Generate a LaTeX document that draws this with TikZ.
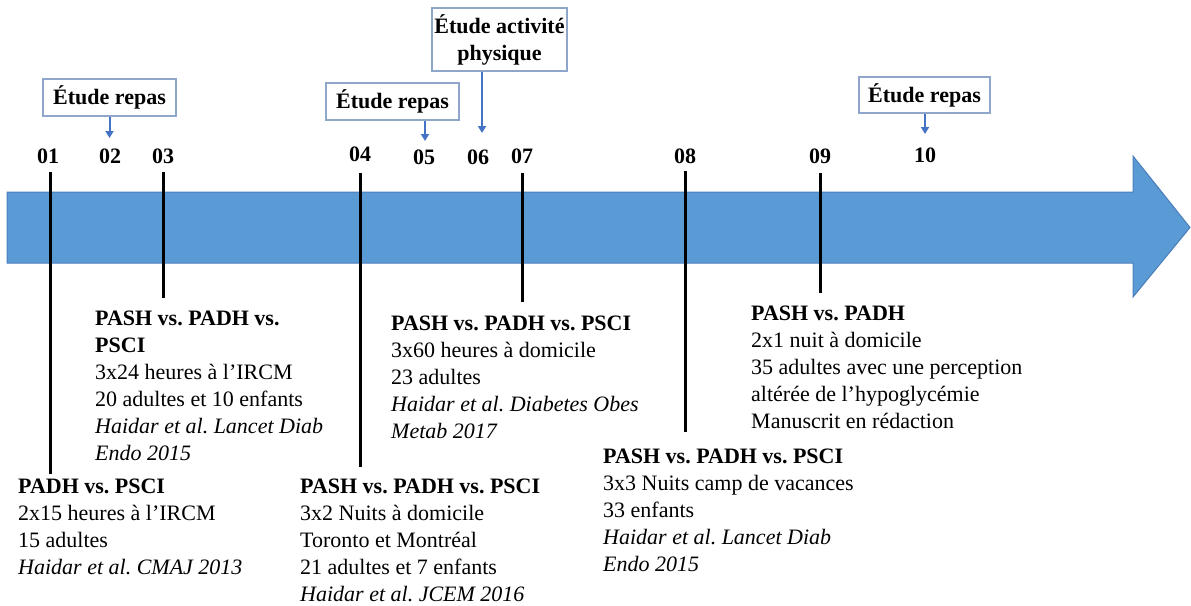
\documentclass[tikz,border=0pt]{standalone}
\usepackage{fontspec}
\setmainfont{Liberation Serif}
\usetikzlibrary{arrows.meta}
\frenchspacing
\definecolor{bandfill}{HTML}{5B9BD5}
\definecolor{banddraw}{HTML}{4A7EBB}
\definecolor{boxline}{HTML}{8EA6C9}
\definecolor{pointer}{HTML}{4472C4}
\newcommand\txtsize{\fontsize{22}{27}\selectfont}
\tikzset{
  studybox/.style={draw=boxline, line width=1.1pt, fill=white, inner sep=0pt,
    align=center, font=\txtsize\bfseries},
  pointer/.style={draw=pointer, line width=2pt,
    -{Triangle[width=8pt,length=7pt]}},
  yearlbl/.style={inner sep=0pt, font=\txtsize\bfseries},
  tick/.style={line width=3pt, black},
  % anchored at the baseline of the last line
  infoblock/.style={anchor=base west, align=left, inner sep=0pt, font=\txtsize},
}
\begin{document}
\begin{tikzpicture}[x=1pt,y=-1pt]
\useasboundingbox (0,0) rectangle (1191,605);

% timeline band
\draw[fill=bandfill, draw=banddraw, line width=1pt]
  (7,192) -- (1133,192) -- (1133,156) -- (1190,227.5) -- (1133,297)
  -- (1133,263) -- (7,263) -- cycle;

% year labels
\node[yearlbl] (n01) at (48,156) {01};
\node[yearlbl] (n02) at (110,156) {02};
\node[yearlbl] (n03) at (163,156) {03};
\node[yearlbl] (n04) at (360,154) {04};
\node[yearlbl] (n05) at (424,157) {05};
\node[yearlbl] (n06) at (478,157) {06};
\node[yearlbl] (n07) at (522,156) {07};
\node[yearlbl] (n08) at (685,156) {08};
\node[yearlbl] (n09) at (820,156) {09};
\node[yearlbl] (n10) at (925,155) {10};

% side studies
\node[studybox, minimum width=133pt, minimum height=37pt] (s02) at (109.5,97.5) {Étude repas};
\node[studybox, minimum width=133pt, minimum height=37pt] (s05) at (392.5,101.5) {Étude repas};
\node[studybox, minimum width=135pt, minimum height=63pt] (s06) at (499.5,39.5) {Étude activité\\physique};
\node[studybox, minimum width=131pt, minimum height=36pt] (s10) at (924.5,95) {Étude repas};

\coordinate (p02) at (109.5,138);
\coordinate (p05) at (425,141);
\coordinate (p06) at (482,133);
\coordinate (p10) at (925,134);
\draw[pointer] (s02.south) -- (p02);
\draw[pointer] (p05 |- s05.south) -- (p05);
\draw[pointer] (p06 |- s06.south) -- (p06);
\draw[pointer] (p10 |- s10.south) -- (p10);

% study markers
\coordinate (t01) at (50,172);  \coordinate (b01) at (50,474);
\coordinate (t03) at (163,172); \coordinate (b03) at (163,298);
\coordinate (t04) at (360,173); \coordinate (b04) at (360,467);
\coordinate (t07) at (522,173); \coordinate (b07) at (522,302);
\coordinate (t08) at (685,171); \coordinate (b08) at (685,432);
\coordinate (t09) at (820,173); \coordinate (b09) at (820,293);
\foreach \k in {01,03,04,07,08,09} \draw[tick] (t\k) -- (b\k);

% study descriptions
\node[infoblock] (d01) at (18,574) {\textbf{PADH vs. PSCI}\\2x15 heures à l’IRCM\\15 adultes\\\textit{Haidar et al. CMAJ 2013}};
\node[infoblock] (d03) at (95,460) {\textbf{PASH vs. PADH vs.}\\\textbf{PSCI}\\3x24 heures à l’IRCM\\20 adultes et 10 enfants\\\textit{Haidar et al. Lancet Diab}\\\textit{Endo 2015}};
\node[infoblock] (d04) at (300,601) {\textbf{PASH vs. PADH vs. PSCI}\\3x2 Nuits à domicile\\Toronto et Montréal\\21 adultes et 7 enfants\\\textit{Haidar et al. JCEM 2016}};
\node[infoblock] (d07) at (391,438) {\textbf{PASH vs. PADH vs. PSCI}\\3x60 heures à domicile\\23 adultes\\\textit{Haidar et al. Diabetes Obes}\\\textit{Metab 2017}};
\node[infoblock] (d08) at (603,571) {\textbf{PASH vs. PADH vs. PSCI}\\3x3 Nuits camp de vacances\\33 enfants\\\textit{Haidar et al. Lancet Diab}\\\textit{Endo 2015}};
\node[infoblock] (d09) at (751,428) {\textbf{PASH vs. PADH}\\2x1 nuit à domicile\\35 adultes avec une perception\\altérée de l’hypoglycémie\\Manuscrit en rédaction};
\end{tikzpicture}
\end{document}
